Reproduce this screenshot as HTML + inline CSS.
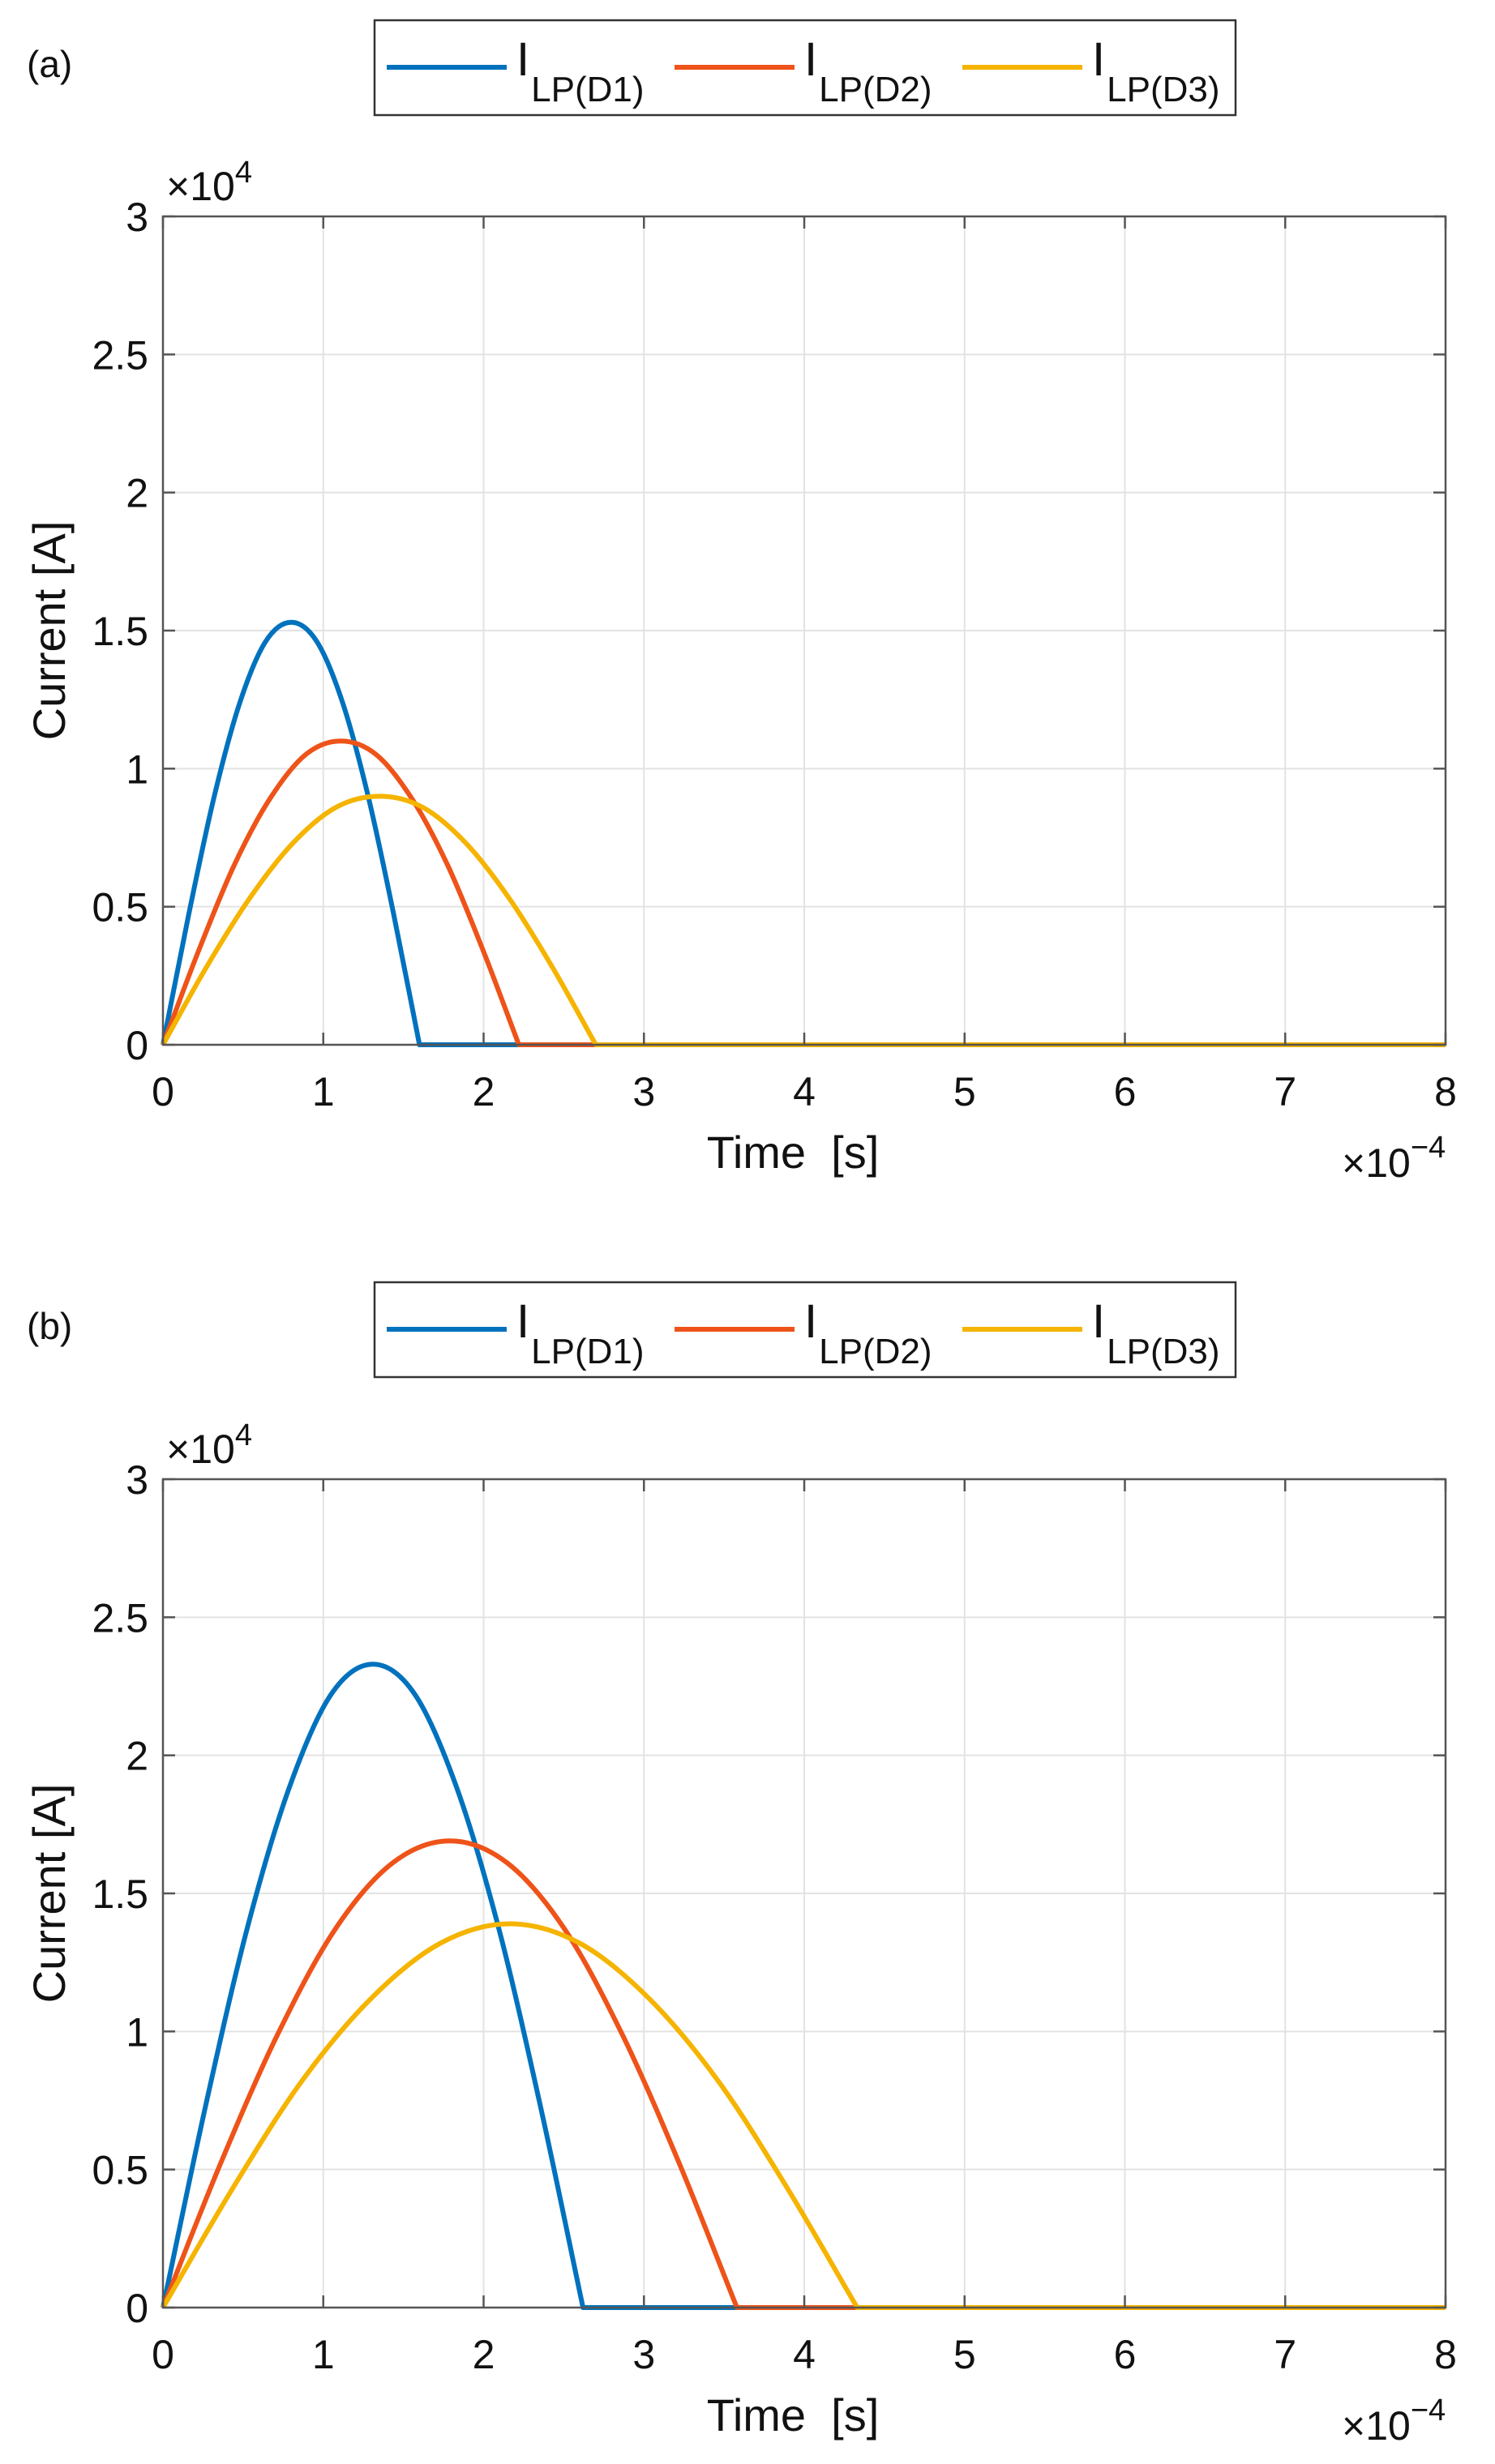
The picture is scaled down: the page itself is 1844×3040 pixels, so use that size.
<!DOCTYPE html>
<html><head><meta charset="utf-8"><style>
html,body{margin:0;padding:0;background:#fff;}
svg{display:block;font-family:"Liberation Sans",Arial,sans-serif;}
</style></head><body>
<svg id="fig" width="1844" height="3040" viewBox="0 0 1844 3040" xmlns="http://www.w3.org/2000/svg"></svg>
<script>
// x in units of 1e-4 s, y in units of 1e4 A
const xTicks = [0,1,2,3,4,5,6,7,8];
const yTicks = [0,0.5,1,1.5,2,2.5,3];
const yTickLabels = ["0","0.5","1","1.5","2","2.5","3"];
const seriesNames = ["D1","D2","D3"];
const seriesColors = ["#0072BD","#EE5319","#F5B400"];

const aD1_t = [0,0.16,0.32,0.48,0.64,0.8,0.96,1.12,1.28,1.44,1.6,8];
const aD1_v = [0,0.47,0.90,1.24,1.46,1.53,1.46,1.24,0.90,0.47,0,0];
const aD2_t = [0,0.222,0.444,0.666,0.888,1.11,1.332,1.554,1.776,1.998,2.22,8];
const aD2_v = [0,0.34,0.65,0.89,1.05,1.10,1.05,0.89,0.65,0.34,0,0];
const aD3_t = [0,0.27,0.54,0.81,1.08,1.35,1.62,1.89,2.16,2.43,2.70,8];
const aD3_v = [0,0.28,0.53,0.73,0.86,0.90,0.86,0.73,0.53,0.28,0,0];

const bD1_t = [0,0.262,0.524,0.786,1.048,1.31,1.572,1.834,2.096,2.358,2.62,8];
const bD1_v = [0,0.72,1.37,1.88,2.22,2.33,2.22,1.88,1.37,0.72,0,0];
const bD2_t = [0,0.358,0.716,1.074,1.432,1.79,2.148,2.506,2.864,3.222,3.58,8];
const bD2_v = [0,0.52,0.99,1.37,1.61,1.69,1.61,1.37,0.99,0.52,0,0];
const bD3_t = [0,0.433,0.866,1.299,1.732,2.165,2.598,3.031,3.464,3.897,4.33,8];
const bD3_v = [0,0.43,0.82,1.12,1.32,1.39,1.32,1.12,0.82,0.43,0,0];

const NS="http://www.w3.org/2000/svg";
const svg=document.getElementById('fig');
function mk(tag,attrs,parent){const e=document.createElementNS(NS,tag);for(const k in attrs)e.setAttribute(k,attrs[k]);(parent||svg).appendChild(e);return e;}

function smoothPath(pts){
  let d="M"+pts[0][0]+","+pts[0][1];
  const n=pts.length-1;
  for(let i=0;i<n-1;i++){
    const p0=pts[Math.max(0,i-1)],p1=pts[i],p2=pts[i+1],p3=pts[Math.min(n-1,i+2)];
    let c1x=p1[0]+(p2[0]-p0[0])/6,c1y=p1[1]+(p2[1]-p0[1])/6;
    let c2x=p2[0]-(p3[0]-p1[0])/6,c2y=p2[1]-(p3[1]-p1[1])/6;
    if(i===0){c1x=p1[0]+(p2[0]-p1[0])/3;c1y=p1[1]+(p2[1]-p1[1])/3;}
    if(i===n-2){c2x=p2[0]-(p2[0]-p1[0])/3;c2y=p2[1]-(p2[1]-p1[1])/3;}
    d+=" C"+c1x+","+c1y+" "+c2x+","+c2y+" "+p2[0]+","+p2[1];
  }
  d+=" L"+pts[n][0]+","+pts[n][1];
  return d;
}

function panel(id,legTop,top,series){
  const L=201,R=1783,T=top,B=top+1022;
  const xs=v=>L+(v/8)*(R-L);
  const ys=v=>B-(v/3)*(B-T);
  const g=mk('g',{});
  
  
  const pl=mk('text',{x:33,y:legTop+70,'font-size':46,fill:'#111'},g);pl.textContent='('+id+')';
  
  
  const lg=mk('g',{},g);
  
  
  mk('rect',{x:462,y:legTop,width:1062,height:117,fill:'#fff',stroke:'#333','stroke-width':2.5},lg);
  seriesNames.forEach((nm,i)=>{
    const x0=477+i*355;
    const e=mk('g',{},lg);
    
    
    mk('line',{x1:x0,x2:x0+148,y1:legTop+58,y2:legTop+58,stroke:seriesColors[i],'stroke-width':6},e);
    const t=mk('text',{x:x0+160,y:legTop+68,'font-size':58,fill:'#111'},e);
    t.textContent='I';
    const s=mk('tspan',{dx:2,dy:32,'font-size':44},t);s.textContent='LP('+nm+')';
  });
  xTicks.forEach(v=>{if(v>0&&v<8){const l=mk('line',{x1:xs(v),x2:xs(v),y1:T,y2:B,stroke:'#e3e3e3','stroke-width':2},g);}});
  yTicks.forEach(v=>{if(v>0&&v<3){const l=mk('line',{x1:L,x2:R,y1:ys(v),y2:ys(v),stroke:'#e3e3e3','stroke-width':2},g);}});
  series.forEach((s,i)=>{
    const pts=s[0].map((t,k)=>[xs(t),ys(s[1][k])]);
    const p=mk('path',{d:smoothPath(pts),fill:'none',stroke:seriesColors[i],'stroke-width':6,'stroke-linejoin':'round'},g);
    
    
  });
  const ax=mk('rect',{x:L,y:T,width:R-L,height:B-T,fill:'none',stroke:'#555','stroke-width':2.5},g);
  
  
  xTicks.forEach(v=>{
    mk('line',{x1:xs(v),x2:xs(v),y1:B,y2:B-15,stroke:'#555','stroke-width':2.5},g);
    mk('line',{x1:xs(v),x2:xs(v),y1:T,y2:T+15,stroke:'#555','stroke-width':2.5},g);
    const t=mk('text',{x:xs(v),y:B+75,'font-size':50,'text-anchor':'middle',fill:'#111'},g);
    t.textContent=String(v);
    
    
  });
  yTicks.forEach((v,i)=>{
    mk('line',{x1:L,x2:L+15,y1:ys(v),y2:ys(v),stroke:'#555','stroke-width':2.5},g);
    mk('line',{x1:R,x2:R-15,y1:ys(v),y2:ys(v),stroke:'#555','stroke-width':2.5},g);
    const t=mk('text',{x:183,y:ys(v)+18,'font-size':50,'text-anchor':'end',fill:'#111'},g);
    t.textContent=yTickLabels[i];
    
    
  });
  const ye=mk('text',{x:205,y:T-20,'font-size':50,fill:'#111'},g);
  ye.textContent='×10';
  const ys4=mk('tspan',{dy:-22,'font-size':38},ye);ys4.textContent='4';
  
  
  const xe=mk('text',{x:1655,y:B+163,'font-size':50,fill:'#111'},g);
  xe.textContent='×10';
  const xs4=mk('tspan',{dy:-24,'font-size':38},xe);xs4.textContent='−4';
  
  
  const xl=mk('text',{x:978,y:B+152,'font-size':56,'text-anchor':'middle',fill:'#111',style:'white-space:pre'},g);
  xl.textContent='Time  [s]';
  
  
  const yl=mk('text',{x:0,y:0,'font-size':56,'text-anchor':'middle',fill:'#111',transform:'translate(80,'+((T+B)/2)+') rotate(-90)'},g);
  yl.textContent='Current [A]';
  
  
}
panel('a',25,267,[[aD1_t,aD1_v],[aD2_t,aD2_v],[aD3_t,aD3_v]]);
panel('b',1582,1825,[[bD1_t,bD1_v],[bD2_t,bD2_v],[bD3_t,bD3_v]]);
</script>
</body></html>
